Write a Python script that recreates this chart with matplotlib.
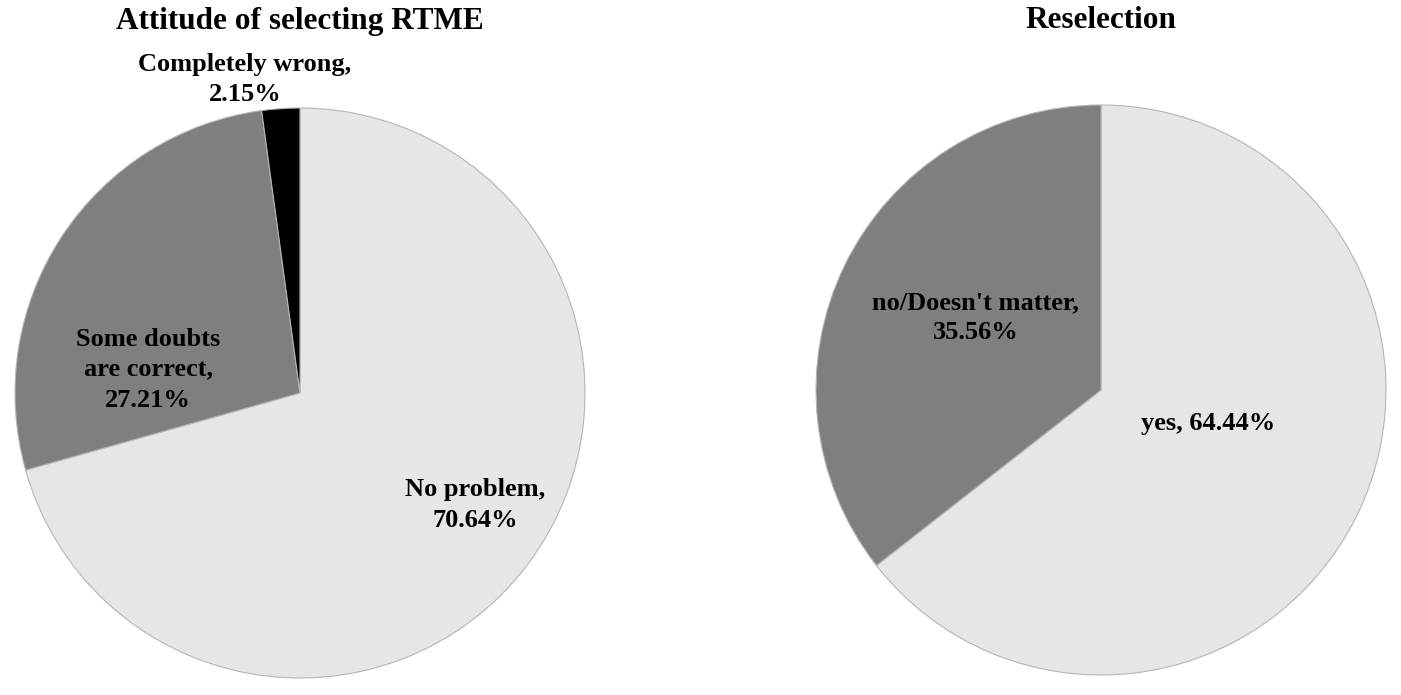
import matplotlib.pyplot as plt

plt.rcParams['font.family'] = ['Liberation Serif', 'DejaVu Serif']

attitude_labels = ['No problem', 'Some doubts\nare correct', 'Completely wrong']
attitude_values = [70.64, 27.21, 2.15]
reselect_labels = ['yes', "no/Doesn't matter"]
reselect_values = [64.44, 35.56]

W, H = 1401, 695
fig = plt.figure(figsize=(W / 100, H / 100), dpi=100)


def pie_axes(cx, cy, r):
    return fig.add_axes([(cx - r) / W, (H - cy - r) / H, 2 * r / W, 2 * r / H])


def draw(ax, values, colors, labels, label_pos, seps, title, title_y):
    ax.pie(values, colors=colors, startangle=90, counterclock=False, radius=1,
           wedgeprops=dict(edgecolor='#b5b5b5', linewidth=0.8))
    for lab, v, (x, y), sep in zip(labels, values, label_pos, seps):
        ax.text(x, y, f'{lab},{sep}{v:.2f}%', ha='center', va='center',
                fontsize=19, fontweight='bold', linespacing=1.4, clip_on=False)
    ax.set_xlim(-1, 1)
    ax.set_ylim(-1, 1)
    ax.set_aspect('equal')
    ax.axis('off')
    ax.text(0, title_y, title, ha='center', va='center', fontsize=22.5,
            fontweight='bold', clip_on=False)


ax1 = pie_axes(300, 393, 285)
draw(ax1, attitude_values, ['#e6e6e6', '#7f7f7f', '#000000'], attitude_labels,
     [(0.614, -0.393), (-0.533, 0.081), (-0.193, 1.10)], ['\n', '\n', '\n'],
     'Attitude of selecting RTME', (393 - 21) / 285)

ax2 = pie_axes(1101, 390, 285)
draw(ax2, reselect_values, ['#e6e6e6', '#7f7f7f'], reselect_labels,
     [(0.375, -0.116), (-0.439, 0.253)], [' ', '\n'],
     'Reselection', (390 - 21) / 285)

fig.savefig('out.png', dpi=100)
